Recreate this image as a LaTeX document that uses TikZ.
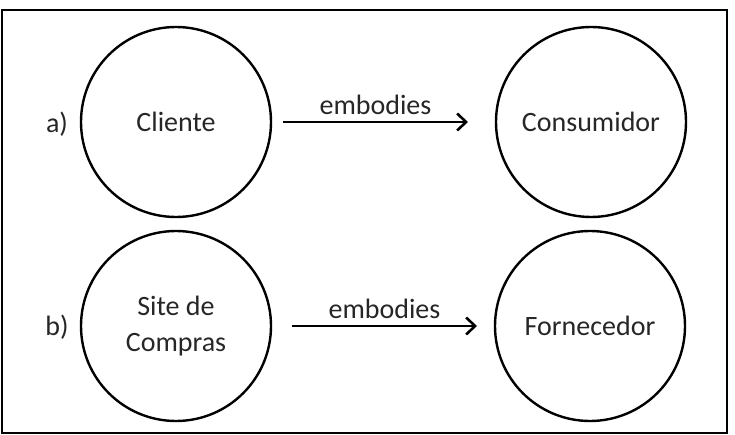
\documentclass[tikz,border=0pt]{standalone}
\usepackage{fontspec}
\setmainfont{Carlito}
\usetikzlibrary{arrows.meta}
\begin{document}
\begin{tikzpicture}[x=1pt,y=-1pt,
  ent/.style={draw=black,line width=2.4pt,circle,minimum size=190pt,inner sep=0pt,align=center,
    font=\fontsize{28}{36}\selectfont,text=black!85},
  lbl/.style={font=\fontsize{28}{36}\selectfont,text=black!85,inner sep=0pt},
  rel/.style={line width=2.6pt,-{Straight Barb[length=9pt,width=17pt,line width=2.6pt]}}]
\useasboundingbox (0,0) rectangle (735,435);
\draw[line width=2pt] (2,10) rectangle (727,433);
\node[ent] (cli) at (176,122) {Cliente};
\node[ent] (con) at (591,122) {Consumidor};
\node[ent] (site) at (176,326) {Site de\\Compras};
\node[ent] (for) at (590,326) {Fornecedor};
\node[lbl] (la) at (57,124) {a)};
\node[lbl] (lb) at (57,327) {b)};
\coordinate (a1) at (283,122);
\coordinate (a2) at (468,122);
\coordinate (b1) at (292,326);
\coordinate (b2) at (477,326);
\draw[rel] (a1) -- node[lbl,above=6pt,pos=0.5] (ea) {embodies} (a2);
\draw[rel] (b1) -- node[lbl,above=6pt,pos=0.5] (eb) {embodies} (b2);
\end{tikzpicture}
\end{document}
